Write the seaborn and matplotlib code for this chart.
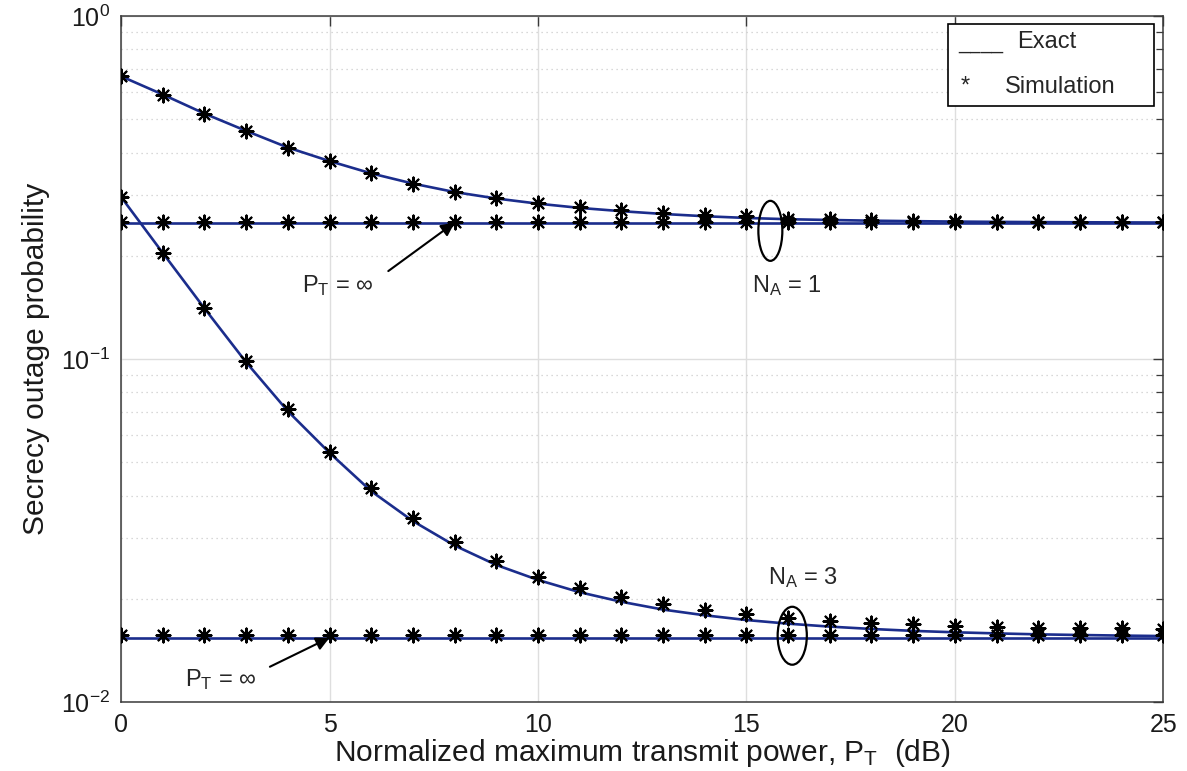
import matplotlib
matplotlib.use("Agg")
import numpy as np
import pandas as pd
import matplotlib.pyplot as plt
import seaborn as sns
from matplotlib.patches import Ellipse, Rectangle
from matplotlib.ticker import LogLocator, NullFormatter, FixedLocator

# Normalized maximum transmit power (dB)
pt_db = list(range(26))

# N_A = 1: analytical (exact) secrecy outage probability and simulation
exact_na1 = [0.668, 0.591, 0.520, 0.463, 0.414, 0.378, 0.348, 0.325, 0.307, 0.294,
             0.284, 0.276, 0.270, 0.265, 0.261, 0.258, 0.2558, 0.2545, 0.2533, 0.2525,
             0.2518, 0.2513, 0.2509, 0.2506, 0.2504, 0.2502]
sim_na1 = [0.668, 0.591, 0.520, 0.463, 0.414, 0.378, 0.348, 0.325, 0.307, 0.295,
           0.285, 0.277, 0.272, 0.267, 0.263, 0.262, 0.257, 0.2555, 0.2542, 0.2530,
           0.2525, 0.2515, 0.2512, 0.2510, 0.2508, 0.2506]

# N_A = 3: analytical (exact) secrecy outage probability and simulation
exact_na3 = [0.297, 0.204, 0.1406, 0.0979, 0.0705, 0.0533, 0.0412, 0.0337, 0.0286, 0.0251,
             0.0227, 0.0209, 0.0196, 0.0186, 0.0179, 0.01734, 0.01692, 0.01659, 0.01633, 0.01612,
             0.01597, 0.01585, 0.01575, 0.01568, 0.01562, 0.01557]
sim_na3 = [0.297, 0.204, 0.1406, 0.0987, 0.0713, 0.0537, 0.0420, 0.0343, 0.0292, 0.0258,
           0.0231, 0.0215, 0.0202, 0.0193, 0.01855, 0.0181, 0.0176, 0.0172, 0.0170, 0.0169,
           0.0167, 0.0165, 0.01645, 0.0164, 0.0164, 0.0163]

# Asymptotic floors for P_T -> infinity (exact value and simulated points)
floor_na1 = 0.250
floor_na3 = 0.0154
floor_sim_na1 = 0.2514
floor_sim_na3 = 0.0157

y_ticks = [1e-2, 1e-1, 1e0]
x_ticks = [0, 5, 10, 15, 20, 25]

sns.set_style("white")
plt.rcParams["font.family"] = ["Liberation Sans", "DejaVu Sans"]
plt.rcParams["mathtext.fontset"] = "custom"
plt.rcParams["mathtext.rm"] = "Liberation Sans"
plt.rcParams["mathtext.it"] = "Liberation Sans:italic"
plt.rcParams["mathtext.default"] = "regular"

df = pd.DataFrame({
    "pt": pt_db,
    "exact_na1": exact_na1, "sim_na1": sim_na1,
    "exact_na3": exact_na3, "sim_na3": sim_na3,
    "floor_na1": [floor_na1] * len(pt_db), "floor_na3": [floor_na3] * len(pt_db),
    "floor_sim_na1": [floor_sim_na1] * len(pt_db), "floor_sim_na3": [floor_sim_na3] * len(pt_db),
})

fig = plt.figure(figsize=(11.87, 7.71), dpi=100)
ax = fig.add_axes([0.102, 0.0895, 0.878, 0.8895])

line_color = "#1b2d8c"
for col in ["exact_na1", "floor_na1", "exact_na3", "floor_na3"]:
    sns.lineplot(data=df, x="pt", y=col, ax=ax, color=line_color, linewidth=1.9, zorder=3)

star = (8, 2, 0)
for col in ["sim_na1", "floor_sim_na1", "sim_na3", "floor_sim_na3"]:
    sns.scatterplot(data=df, x="pt", y=col, ax=ax, marker=star, color="black",
                    s=100, linewidth=1.5, zorder=4)

ax.set_yscale("log")
ax.set_xlim(0, 25)
ax.set_ylim(1e-2, 1e0)
ax.xaxis.set_major_locator(FixedLocator(x_ticks))
ax.yaxis.set_major_locator(FixedLocator(y_ticks))
ax.yaxis.set_minor_locator(LogLocator(base=10, subs=np.arange(2, 10), numticks=20))
ax.yaxis.set_minor_formatter(NullFormatter())

ax.grid(which="major", color="#dedede", linestyle="-", linewidth=1.0, zorder=0)
ax.grid(which="minor", axis="y", color="#cccccc", linestyle=(0, (1, 3)), linewidth=0.9, zorder=0)
ax.set_axisbelow(True)

axis_gray = "#3a3a3a"
for sp in ax.spines.values():
    sp.set_color(axis_gray)
    sp.set_linewidth(1.1)
    sp.set_visible(True)
ax.tick_params(which="both", direction="in", top=True, right=True, color=axis_gray,
               labelsize=18, labelcolor="#1a1a1a")
ax.tick_params(which="major", length=7, width=1.0, pad=8)
ax.tick_params(which="minor", length=5, width=0.9)

ax.set_xlabel(r"Normalized maximum transmit power, P$_\mathregular{T}$  (dB)", fontsize=21.5,
              labelpad=0, color="#1a1a1a")
ax.set_ylabel("Secrecy outage probability", fontsize=21.5, labelpad=8, color="#1a1a1a")

# Group markers
ax.add_patch(Ellipse((0.623, 0.687), 0.0230, 0.0875, transform=ax.transAxes,
                     fill=False, edgecolor="black", linewidth=1.6, zorder=5))
ax.add_patch(Ellipse((0.644, 0.0966), 0.0280, 0.0845, transform=ax.transAxes,
                     fill=False, edgecolor="black", linewidth=1.6, zorder=5))

ann_fs = 17
ax.text(15.14, 0.164, r"N$_\mathregular{A}$ = 1", fontsize=ann_fs, va="center", ha="left")
ax.text(15.52, 0.0230, r"N$_\mathregular{A}$ = 3", fontsize=ann_fs, va="center", ha="left")

arrow = dict(arrowstyle="-|>", color="black", lw=1.5, mutation_scale=20, shrinkA=0, shrinkB=0)
ax.annotate("", xy=(8, floor_na1), xytext=(6.41, 0.1806), arrowprops=arrow, zorder=6)
ax.text(4.33, 0.164, "P$_\\mathregular{T}$ = \u221e", fontsize=ann_fs, va="center", ha="left")
ax.annotate("", xy=(5, floor_na3), xytext=(3.57, 0.01267), arrowprops=arrow, zorder=6)
ax.text(1.54, 0.01159, "P$_\\mathregular{T}$ = \u221e", fontsize=ann_fs, va="center", ha="left")

# Legend box
ax.add_patch(Rectangle((0.793, 0.869), 0.198, 0.119, transform=ax.transAxes,
                       facecolor="white", edgecolor="black", linewidth=1.2, zorder=7))
leg_fs = 17
ax.text(0.803, 0.953, "____", transform=ax.transAxes, fontsize=14.5, va="baseline", zorder=8)
ax.text(0.860, 0.953, "Exact", transform=ax.transAxes, fontsize=leg_fs, va="baseline", zorder=8)
ax.text(0.806, 0.888, "*", transform=ax.transAxes, fontsize=leg_fs, va="baseline", zorder=8)
ax.text(0.848, 0.888, "Simulation", transform=ax.transAxes, fontsize=leg_fs, va="baseline", zorder=8)

fig.savefig("out.png", dpi=100, facecolor="white")
